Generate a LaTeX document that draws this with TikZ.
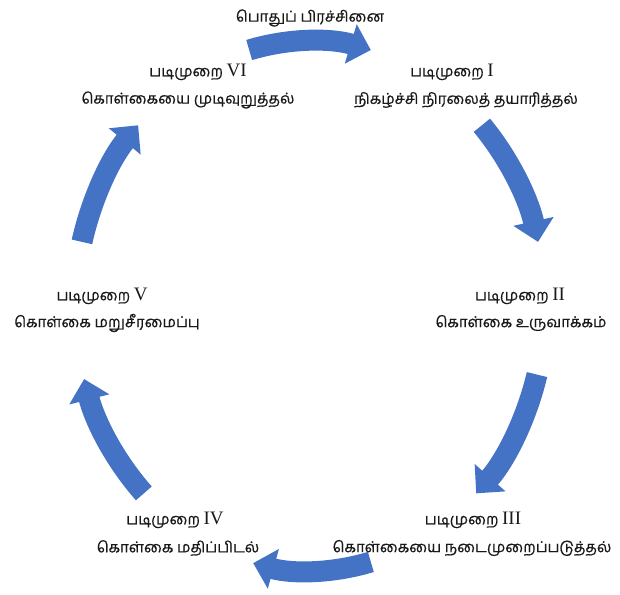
\documentclass[tikz,border=0pt]{standalone}
\usepackage{fontspec}
\setmainfont{Liberation Serif}
\newfontfamily\tamilfont[Script=Tamil,FakeBold=0.6]{Hind Madurai}
\newfontfamily\numfont{Liberation Serif}
\usetikzlibrary{arrows.meta,calc}
\definecolor{arrowblue}{RGB}{68,114,196}
\definecolor{txt}{RGB}{25,25,25}
\begin{document}
\begin{tikzpicture}[x=1pt,y=1pt,
  lbl/.style={inner sep=0pt, text=txt, font=\tamilfont\fontsize{15}{18}\selectfont},
  cyc/.style={arrowblue, line width=21pt, -{Triangle[width=40pt,length=21pt]}}]
\useasboundingbox (0,0) rectangle (620,594);
\coordinate (c) at (310,288);
% labels
\node[lbl] (top) at (310,576) {பொதுப் பிரச்சினை};
\node[lbl] (h1) at (452,522) {படிமுறை\ {\numfont\fontsize{19}{20}\selectfont I}};
\node[lbl] (t1) at (466,494) {நிகழ்ச்சி நிரலைத் தயாரித்தல்};
\node[lbl] (h2) at (520,298) {படிமுறை\ {\numfont\fontsize{19}{20}\selectfont II}};
\node[lbl] (t2) at (521,271) {கொள்கை உருவாக்கம்};
\node[lbl] (h3) at (473,74) {படிமுறை\ {\numfont\fontsize{19}{20}\selectfont III}};
\node[lbl] (t3) at (472,46) {கொள்கையை நடைமுறைப்படுத்தல்};
\node[lbl] (h4) at (175,74) {படிமுறை\ {\numfont\fontsize{19}{20}\selectfont IV}};
\node[lbl] (t4) at (178,46) {கொள்கை மதிப்பிடல்};
\node[lbl] (h5) at (102,298) {படிமுறை\ {\numfont\fontsize{19}{20}\selectfont V}};
\node[lbl] (t5) at (107,271) {கொள்கை மறுசீரமைப்பு};
\node[lbl] (h6) at (198,522) {படிமுறை\ {\numfont\fontsize{19}{20}\selectfont VI}};
\node[lbl] (t6) at (188,494) {கொள்கையை முடிவுறுத்தல்};
% arrow start points on the ellipse
\foreach \n/\a in {a1/105,a2/43,a3/-15,a4/-75,a5/225,a6/166}{
  \coordinate (\n) at ($(c)+(\a:235 and 265)$);
}
\draw[cyc] (a1) arc[start angle=105, end angle=75, x radius=235, y radius=265];
\draw[cyc] (a2) arc[start angle=43, end angle=14, x radius=235, y radius=265];
\draw[cyc] (a3) arc[start angle=-15, end angle=-45, x radius=235, y radius=265];
\draw[cyc] (a4) arc[start angle=-75, end angle=-104, x radius=235, y radius=265];
\draw[cyc] (a5) arc[start angle=225, end angle=196, x radius=235, y radius=265];
\draw[cyc] (a6) arc[start angle=166, end angle=137, x radius=235, y radius=265];
\end{tikzpicture}
\end{document}
